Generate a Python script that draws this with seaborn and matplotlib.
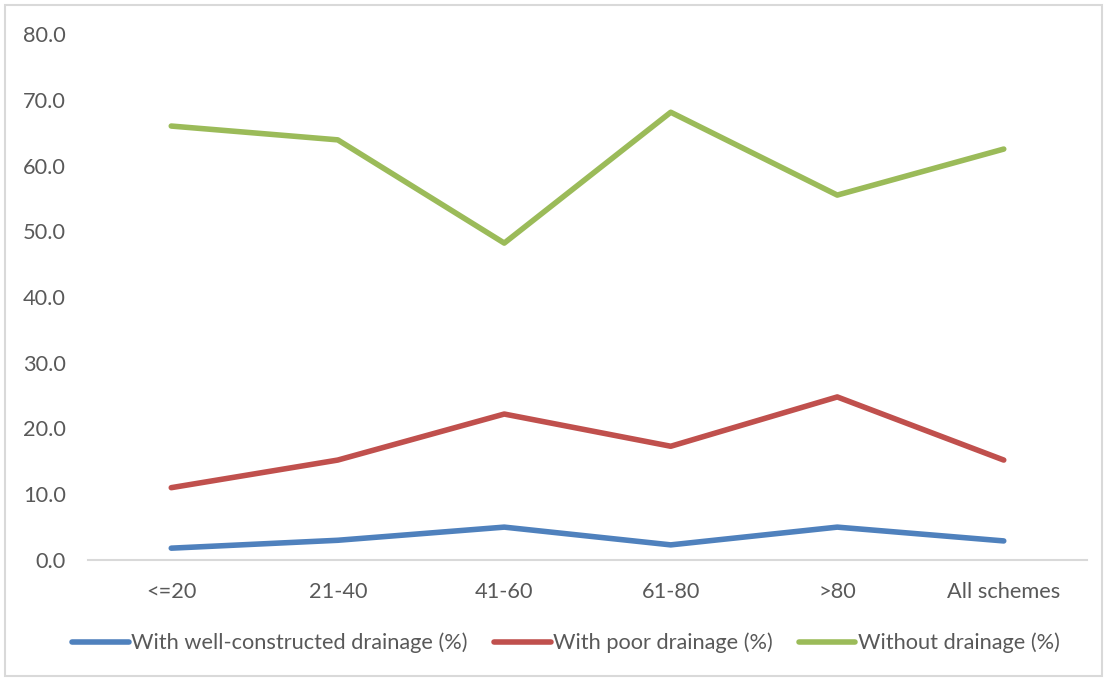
import matplotlib
matplotlib.use("Agg")
import matplotlib.pyplot as plt
import matplotlib.patches as patches
from matplotlib.ticker import FormatStrFormatter
import seaborn as sns
import pandas as pd

categories = ["<=20", "21-40", "41-60", "61-80", ">80", "All schemes"]
well_constructed = [1.8, 3.0, 5.0, 2.3, 5.0, 2.9]
poor_drainage = [11.0, 15.2, 22.2, 17.3, 24.8, 15.2]
without_drainage = [66.0, 63.9, 48.2, 68.1, 55.5, 62.5]
series_names = ["With well-constructed drainage (%)", "With poor drainage (%)", "Without drainage (%)"]
colors = ["#4F81BD", "#C0504D", "#9BBB59"]
y_ticks = [0, 10, 20, 30, 40, 50, 60, 70, 80]

rows = []
for name, vals in zip(series_names, [well_constructed, poor_drainage, without_drainage]):
    for i, (c, v) in enumerate(zip(categories, vals)):
        rows.append({"pos": i, "cat": c, "value": v, "series": name})
df = pd.DataFrame(rows)

sns.set_theme(style="white")
plt.rcParams["font.family"] = ["Lato", "DejaVu Sans"]

fig = plt.figure(figsize=(11.07, 6.81), dpi=100)
ax = fig.add_axes([88/1107, (681-560)/681, (1087-88)/1107, (560-34)/681])

sns.lineplot(data=df, x="pos", y="value", hue="series", hue_order=series_names,
             palette=colors, linewidth=4.0, ax=ax, sort=False, legend=True,
             solid_capstyle="round")

ax.set_xlim(-0.5, 5.5)
ax.set_ylim(0, 80)
ax.set_yticks(y_ticks)
ax.yaxis.set_major_formatter(FormatStrFormatter("%.1f"))
ax.set_xticks(range(len(categories)))
ax.set_xticklabels(categories)
ax.set_xlabel("")
ax.set_ylabel("")
for s in ["top", "right", "left"]:
    ax.spines[s].set_visible(False)
ax.spines["bottom"].set_color("#d9d9d9")
ax.spines["bottom"].set_linewidth(1.5)
ax.tick_params(axis="both", length=0, labelsize=15.7, labelcolor="#595959")
ax.tick_params(axis="x", pad=16)
ax.tick_params(axis="y", pad=16)
ax.grid(False)

handles, labels = ax.get_legend_handles_labels()
ax.get_legend().remove()
leg = fig.legend(handles, labels, loc="center", bbox_to_anchor=(566/1107, 1-643/681),
                 ncol=3, frameon=False, fontsize=15.7, handlelength=2.6,
                 handletextpad=0.1, columnspacing=1.2, labelcolor="#595959")
for h in leg.get_lines():
    h.set_linewidth(4.0)
    h.set_solid_capstyle("round")

border = patches.Rectangle((5/1107, 5/681), 1097/1107, 671/681, transform=fig.transFigure,
                           fill=False, edgecolor="#d9d9d9", linewidth=1.5)
fig.patches.append(border)

fig.savefig("out.png", dpi=100)
